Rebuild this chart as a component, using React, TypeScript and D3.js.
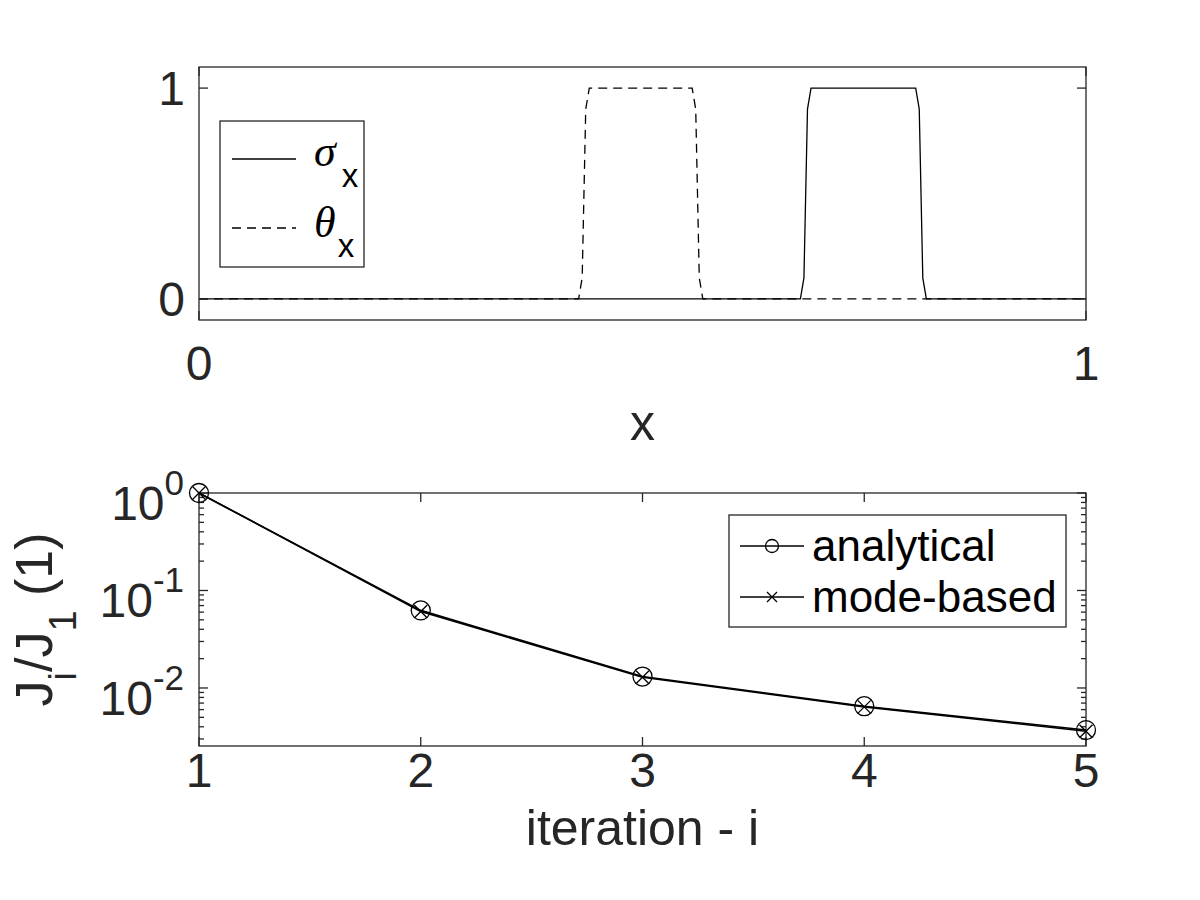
import React from 'react';
import * as d3 from 'd3';

// top panel: indicator functions sampled on x in [0, 1]
const sigmaX = [0, 0.678, 0.682, 0.686, 0.69, 0.808, 0.812, 0.816, 0.82, 1];
const sigmaY = [0, 0, 0.1, 0.9, 1, 1, 0.9, 0.1, 0, 0];
const thetaX = [0, 0.428, 0.432, 0.436, 0.44, 0.556, 0.56, 0.564, 0.568, 1];
const thetaY = [0, 0, 0.1, 0.9, 1, 1, 0.9, 0.1, 0, 0];
const topXTicks = [0, 1];
const topYTicks = [0, 1];

// bottom panel: normalised cost per iteration
const iterations = [1, 2, 3, 4, 5];
const analytical = [1, 0.0625, 0.0131, 0.0065, 0.0037];
const modeBased = [1, 0.061, 0.0129, 0.0064, 0.0036];
const logMajor = [1, 0.1, 0.01];
const logMajorExp = ['0', '-1', '-2'];

const W = 1200, H = 900;
const L = 199, R = 1086;
const T1 = 67, B1 = 320;
const T2 = 493, B2 = 746;
const AX = '#262626';
const FONT = '"Liberation Sans", Arial, Helvetica, sans-serif';
const TL = 9; // major tick length
const TLm = 5; // minor tick length

const App = () => {
  const x1 = d3.scaleLinear().domain([0, 1]).range([L, R]);
  const y1 = d3.scaleLinear().domain([-0.1, 1.1]).range([B1, T1]);
  const x2 = d3.scaleLinear().domain([1, 5]).range([L, R]);
  const y2 = d3.scaleLog().domain([0.00254, 1]).range([B2, T2]);

  const pathOf = (xs: number[], ys: number[]) =>
    d3.line<number>().x(d => x1(d)).y((d, i) => y1(ys[i]))(xs) as string;
  const pathLog = (vals: number[]) =>
    d3.line<number>().x((d, i) => x2(iterations[i])).y(d => y2(d))(vals) as string;

  // minor log ticks
  const minor: number[] = [];
  [-3, -2, -1].forEach(e => {
    for (let k = 2; k <= 9; k++) {
      const v = k * Math.pow(10, e);
      const [lo, hi] = y2.domain();
      if (v > lo && v < hi) minor.push(v);
    }
  });

  const circle = (cx: number, cy: number, r: number, key: string) => (
    <circle key={key} cx={cx} cy={cy} r={r} fill="none" stroke="#000" strokeWidth={1.3} />
  );
  const cross = (cx: number, cy: number, s: number, key: string) => (
    <path key={key} d={`M${cx - s},${cy - s}L${cx + s},${cy + s}M${cx - s},${cy + s}L${cx + s},${cy - s}`}
      stroke="#000" strokeWidth={1.3} fill="none" />
  );

  return (
    <svg width={W} height={H} style={{ position: 'absolute', left: 0, top: 0, background: '#fff' }}
      fontFamily={FONT}>
      <rect x={0} y={0} width={W} height={H} fill="#fff" />

      {/* ---------- top panel ---------- */}
      <path d={pathOf(thetaX, thetaY)} fill="none" stroke="#000" strokeWidth={1.3} strokeDasharray="9,6" />
      <path d={pathOf(sigmaX, sigmaY)} fill="none" stroke="#000" strokeWidth={1.3} />
      <rect x={L} y={T1} width={R - L} height={B1 - T1} fill="none" stroke={AX} strokeWidth={1.3} />
      {topYTicks.map(t => (
        <g key={'ty' + t}>
          <line x1={L} x2={L + TL} y1={y1(t)} y2={y1(t)} stroke={AX} strokeWidth={1.3} />
          <line x1={R} x2={R - TL} y1={y1(t)} y2={y1(t)} stroke={AX} strokeWidth={1.3} />
          <text x={185} y={y1(t) + 17} textAnchor="end" fontSize={48} fill={AX}>{t}</text>
        </g>
      ))}
      {topXTicks.map(t => (
        <g key={'tx' + t}>
          <line x1={x1(t)} x2={x1(t)} y1={B1} y2={B1 - TL} stroke={AX} strokeWidth={1.3} />
          <line x1={x1(t)} x2={x1(t)} y1={T1} y2={T1 + TL} stroke={AX} strokeWidth={1.3} />
          <text x={x1(t)} y={380} textAnchor="middle" fontSize={48} fill={AX}>{t}</text>
        </g>
      ))}
      <text x={(L + R) / 2} y={440} textAnchor="middle" fontSize={50} fill={AX}>x</text>

      {/* top legend */}
      <rect x={220} y={121} width={144} height={146} fill="#fff" stroke={AX} strokeWidth={1.3} />
      <line x1={232} x2={296} y1={159} y2={159} stroke="#000" strokeWidth={1.3} />
      <line x1={232} x2={296} y1={228} y2={228} stroke="#000" strokeWidth={1.3} strokeDasharray="9,6" />
      <text x={314} y={166} fontSize={44} fill="#000">
        <tspan fontFamily='"Liberation Serif", "Times New Roman", serif' fontStyle="italic">σ</tspan>
        <tspan dy={21} fontSize={33} dx={6}>x</tspan>
      </text>
      <text x={314} y={237} fontSize={44} fill="#000">
        <tspan fontFamily='"Liberation Serif", "Times New Roman", serif' fontStyle="italic">θ</tspan>
        <tspan dy={20} fontSize={33} dx={2}>x</tspan>
      </text>

      {/* ---------- bottom panel ---------- */}
      <rect x={L} y={T2} width={R - L} height={B2 - T2} fill="none" stroke={AX} strokeWidth={1.3} />
      {logMajor.map((v, i) => (
        <g key={'ly' + v}>
          <line x1={L} x2={L + TL} y1={y2(v)} y2={y2(v)} stroke={AX} strokeWidth={1.3} />
          <line x1={R} x2={R - TL} y1={y2(v)} y2={y2(v)} stroke={AX} strokeWidth={1.3} />
          <text x={184} y={y2(v) + 27} textAnchor="end" fontSize={48} fill={AX}>
            <tspan>10</tspan>
            <tspan dy={-25} fontSize={35}>{logMajorExp[i]}</tspan>
          </text>
        </g>
      ))}
      {minor.map(v => (
        <g key={'lm' + v}>
          <line x1={L} x2={L + TLm} y1={y2(v)} y2={y2(v)} stroke={AX} strokeWidth={1.3} />
          <line x1={R} x2={R - TLm} y1={y2(v)} y2={y2(v)} stroke={AX} strokeWidth={1.3} />
        </g>
      ))}
      {iterations.map(t => (
        <g key={'bx' + t}>
          <line x1={x2(t)} x2={x2(t)} y1={B2} y2={B2 - TL} stroke={AX} strokeWidth={1.3} />
          <line x1={x2(t)} x2={x2(t)} y1={T2} y2={T2 + TL} stroke={AX} strokeWidth={1.3} />
          <text x={x2(t)} y={787} textAnchor="middle" fontSize={48} fill={AX}>{t}</text>
        </g>
      ))}
      <text x={(L + R) / 2} y={845} textAnchor="middle" fontSize={50} fill={AX}>iteration - i</text>
      <text transform={`translate(52,${(T2 + B2) / 2}) rotate(-90)`} textAnchor="middle" fontSize={52} fill={AX}>
        <tspan>J</tspan>
        <tspan dy={24} fontSize={38}>i</tspan>
        <tspan dy={-24}>/J</tspan>
        <tspan dy={24} fontSize={38}>1</tspan>
        <tspan dy={-24}> (1)</tspan>
      </text>

      <path d={pathLog(analytical)} fill="none" stroke="#000" strokeWidth={1.6} />
      <path d={pathLog(modeBased)} fill="none" stroke="#000" strokeWidth={1.6} />
      {analytical.map((v, i) => circle(x2(iterations[i]), y2(v), 9.5, 'c' + i))}
      {modeBased.map((v, i) => cross(x2(iterations[i]), y2(v), 6.5, 'x' + i))}

      {/* bottom legend */}
      <rect x={729} y={515} width={337} height={112} fill="#fff" stroke={AX} strokeWidth={1.3} />
      <line x1={740} x2={804} y1={546} y2={546} stroke="#000" strokeWidth={1.3} />
      {circle(772, 546, 6.5, 'lc')}
      <text x={812} y={561} fontSize={44} fill="#000">analytical</text>
      <line x1={740} x2={804} y1={597} y2={597} stroke="#000" strokeWidth={1.3} />
      {cross(772, 597, 5, 'lx')}
      <text x={812} y={612} fontSize={44} fill="#000">mode-based</text>
    </svg>
  );
};

export default App;
